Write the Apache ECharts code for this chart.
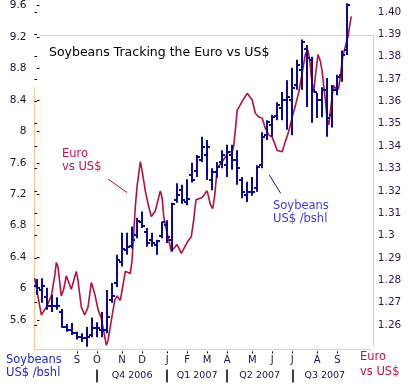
<!DOCTYPE html>
<html><head><meta charset="utf-8">
<script src="https://cdn.jsdelivr.net/npm/echarts@6/dist/echarts.min.js"></script>
<style>html,body{margin:0;padding:0;background:#fff}#c{width:414px;height:386px}</style>
</head><body><div id="c"></div>
<script>
// Weekly categories start at week ending 2006-07-09 (index 0)
const monthPos = [8, 12, 17, 21, 26, 30, 34, 38, 43, 47, 51, 56, 60];
const monthLabels = ['S', 'O', 'N', 'D', 'J', 'F', 'M', 'A', 'M', 'J', 'J', 'A', 'S'];
const quarterBounds = [12, 26, 38, 51];
const quarterPos = [19, 32, 44.5, 57.5];
const quarterLabels = ['Q4 2006', 'Q1 2007', 'Q2 2007', 'Q3 2007'];
const soyTickLabels = ['5.6', '6', '6.4', '6.8', '7.2', '7.6', '8', '8.4', '8.8', '9.2', '9.6'];
const euroTickLabels = ['1.26', '1.27', '1.28', '1.29', '1.3', '1.31', '1.32', '1.33', '1.34', '1.35', '1.36', '1.37', '1.38', '1.39', '1.40'];

// Soybeans weekly bars (US$ /bshl)
const soyOpen = [6.03,5.98,5.89,5.78,5.78,5.70,5.51,5.47,5.43,5.38,5.37,5.41,5.50,5.47,5.47,5.85,6.07,6.34,6.49,6.54,6.68,6.85,6.72,6.62,6.55,6.67,6.81,6.62,7.13,7.25,7.10,7.44,7.50,7.64,7.70,7.38,7.48,7.61,7.57,7.70,7.64,7.38,7.19,7.23,7.28,7.57,7.95,8.08,8.20,8.30,8.40,8.40,8.59,8.78,9.05,8.91,8.50,8.40,8.53,8.21,8.53,8.72,9.03];
const soyHigh = [6.12,6.13,6.01,5.92,5.89,5.74,5.55,5.56,5.45,5.43,5.51,5.63,5.57,5.70,5.98,6.07,6.43,6.71,6.71,6.79,6.90,6.98,6.77,6.71,6.62,6.85,6.87,7.09,7.34,7.32,7.39,7.60,7.70,7.93,7.89,7.53,7.61,7.76,7.83,7.83,7.76,7.42,7.36,7.42,7.57,7.99,8.14,8.21,8.37,8.50,8.65,8.81,8.91,9.17,9.10,8.95,8.49,8.56,8.68,8.59,8.72,9.03,9.63];
const soyLow = [5.92,5.82,5.73,5.70,5.73,5.50,5.45,5.41,5.35,5.32,5.26,5.38,5.38,5.38,5.43,5.82,6.02,6.28,6.43,6.51,6.64,6.77,6.53,6.53,6.43,6.64,6.58,6.47,7.09,7.08,7.06,7.35,7.42,7.61,7.38,7.25,7.41,7.53,7.42,7.51,7.32,7.15,7.10,7.18,7.23,7.53,7.89,7.93,8.14,8.14,8.02,7.95,8.53,8.53,8.31,8.11,8.17,8.18,7.93,8.05,8.46,8.63,8.97];
const soyClose = [6.01,6.03,5.78,5.78,5.78,5.51,5.47,5.43,5.38,5.37,5.38,5.50,5.50,5.47,5.64,5.91,6.36,6.50,6.53,6.62,6.86,6.79,6.58,6.58,6.60,6.85,6.66,7.08,7.19,7.13,7.14,7.38,7.67,7.80,7.80,7.48,7.54,7.70,7.74,7.64,7.53,7.23,7.23,7.23,7.54,7.93,8.12,8.18,8.33,8.40,8.44,8.55,8.84,9.14,8.93,8.53,8.40,8.53,8.17,8.53,8.69,8.97,9.61];

// Euro vs US$ (position in weeks, rate)
const euroWeek = [-0.45,0.87,1.87,2.87,3.55,3.87,4.2,4.86,5.34,5.86,6.86,7.86,8.2,8.86,9.54,9.86,10.2,10.86,11.54,12.2,12.85,13.19,13.85,14.19,14.85,15.53,16.0,16.65,17.65,18.65,19.0,19.33,19.65,20.0,20.65,21.0,21.64,22.32,22.84,23.64,24.64,25.0,25.32,26.0,26.64,26.84,28.0,28.84,30.0,30.83,31.31,31.77,33.0,34.0,34.63,35.11,35.51,36.0,36.63,37.63,38.3,39.0,39.3,39.62,40.0,41.0,42.0,43.0,43.62,44.3,45.0,45.62,46.29,47.0,48.0,49.0,49.61,50.29,51.0,51.61,52.29,53.0,53.61,54.1,54.5,54.8,55.28,55.6,56.14,56.6,56.94,57.28,57.6,57.94,58.28,58.6,58.94,59.28,59.94,60.28,60.6,61.08,61.6,62.14,62.48,62.79];
const euroRate = [1.281,1.2645,1.268,1.273,1.282,1.288,1.286,1.273,1.276,1.282,1.276,1.284,1.280,1.268,1.2645,1.264,1.268,1.279,1.274,1.267,1.263,1.259,1.251,1.253,1.262,1.271,1.273,1.271,1.284,1.283,1.289,1.301,1.313,1.322,1.333,1.329,1.320,1.313,1.3085,1.311,1.320,1.317,1.3085,1.301,1.295,1.293,1.296,1.292,1.297,1.2995,1.307,1.316,1.317,1.320,1.314,1.312,1.318,1.330,1.332,1.335,1.3375,1.3375,1.340,1.347,1.356,1.360,1.3636,1.3606,1.3547,1.353,1.3525,1.348,1.345,1.344,1.338,1.3375,1.342,1.3465,1.353,1.358,1.364,1.373,1.381,1.383,1.3785,1.371,1.364,1.371,1.381,1.378,1.374,1.367,1.361,1.3525,1.3495,1.355,1.362,1.367,1.365,1.366,1.371,1.380,1.3845,1.389,1.394,1.398];

const FONT = '"DejaVu Sans", Verdana, sans-serif';
const BLUE = '#0a0a96';
const RED = '#b4103c';
const FRAME = '#fcc690';

const soyData = soyOpen.map((o, i) => [i, o, soyHigh[i], soyLow[i], soyClose[i]]);
const euroData = euroWeek.map((w, i) => [w, euroRate[i]]);

const GL = 34.45, GR = 39.14;
const chart = echarts.init(document.getElementById('c'), null, {renderer: 'canvas'});
chart.setOption({
  animation: false,
  backgroundColor: '#fff',
  grid: [
    {left: GL, right: GR, top: 5.6, bottom: 34.6, outerBoundsMode: 'none'},
    {left: GL, right: GR, top: 11.9, bottom: 38.6, outerBoundsMode: 'none'}
  ],
  xAxis: [
    {type: 'value', gridIndex: 0, min: -0.5, max: 67.5, position: 'bottom',
     axisLine: {show: false}, splitLine: {show: false},
     axisTick: {show: true, customValues: monthPos, length: 2, lineStyle: {color: '#000'}},
     axisLabel: {customValues: monthPos, margin: 4, fontFamily: FONT, fontSize: 10, color: '#141440',
       formatter: v => monthLabels[monthPos.indexOf(v)]}},
    {type: 'value', gridIndex: 1, min: -0.5, max: 67.5, show: false},
    {type: 'value', gridIndex: 0, min: -0.5, max: 67.5, position: 'bottom', offset: 18,
     axisLine: {show: false}, splitLine: {show: false},
     axisTick: {show: true, customValues: quarterBounds, length: 13, lineStyle: {color: '#000', width: 1.5}},
     axisLabel: {customValues: quarterPos, margin: 1, fontFamily: FONT, fontSize: 9.5, color: '#141440',
       formatter: v => quarterLabels[quarterPos.indexOf(v)]}}
  ],
  yAxis: [
    {type: 'value', gridIndex: 0, min: 5.2, max: 9.6, interval: 0.4, position: 'left',
     axisLine: {show: false}, splitLine: {show: false},
     axisTick: {show: true, inside: true, length: 2.5, lineStyle: {color: '#000'}},
     axisLabel: {showMinLabel: false, margin: 8, fontFamily: FONT, fontSize: 10.5, color: '#141428',
       formatter: v => { const k = Math.round((v - 5.6) / 0.4); return soyTickLabels[k] || ''; }}},
    {type: 'value', gridIndex: 1, min: 1.25, max: 1.40, interval: 0.01, position: 'right',
     axisLine: {show: false}, splitLine: {show: false},
     axisTick: {show: true, inside: true, length: 2.5, lineStyle: {color: '#000'}},
     axisLabel: {showMinLabel: false, margin: 3, fontFamily: FONT, fontSize: 10.5, color: '#301848',
       formatter: v => { const k = Math.round((v - 1.26) * 100); return euroTickLabels[k] || ''; }}}
  ],
  series: [
    {type: 'line', xAxisIndex: 1, yAxisIndex: 1, data: euroData, showSymbol: false, symbol: 'none',
     lineStyle: {color: RED, width: 1.6}, z: 3},
    {type: 'custom', xAxisIndex: 0, yAxisIndex: 0, data: soyData, z: 4,
     encode: {x: 0, y: [1, 2, 3, 4]},
     renderItem: function (params, api) {
       const x = api.value(0);
       const pO = api.coord([x, api.value(1)]);
       const pH = api.coord([x, api.value(2)]);
       const pL = api.coord([x, api.value(3)]);
       const pC = api.coord([x, api.value(4)]);
       const w = api.size([1, 0])[0] * 0.6;
       const cx = Math.round(pH[0]);
       const st = {stroke: BLUE, lineWidth: 2};
       return {type: 'group', children: [
         {type: 'line', shape: {x1: cx, y1: pH[1], x2: cx, y2: pL[1]}, style: st},
         {type: 'line', shape: {x1: cx - w, y1: Math.round(pO[1]), x2: cx, y2: Math.round(pO[1])}, style: st},
         {type: 'line', shape: {x1: cx, y1: Math.round(pC[1]), x2: cx + w, y2: Math.round(pC[1])}, style: st}
       ]};
     }}
  ],
  graphic: [
    {type: 'line', z: 0, shape: {x1: 34.5, y1: 87, x2: 34.5, y2: 349.5}, style: {stroke: FRAME, lineWidth: 1}},
    {type: 'line', z: 0, shape: {x1: 34.5, y1: 349.5, x2: 371, y2: 349.5}, style: {stroke: FRAME, lineWidth: 1}},
    {type: 'line', z: 0, shape: {x1: 40, y1: 35.5, x2: 373.5, y2: 35.5}, style: {stroke: FRAME, lineWidth: 1}},
    {type: 'line', z: 0, shape: {x1: 373.5, y1: 35.5, x2: 373.5, y2: 346}, style: {stroke: FRAME, lineWidth: 1}},
    {type: 'text', z: 5, left: 49, top: 46, style: {text: 'Soybeans Tracking the Euro vs US$', font: '12.5px ' + FONT, fill: '#000'}},
    {type: 'text', z: 5, left: 62, top: 147.5, style: {text: 'Euro\nvs US$', font: '11.5px ' + FONT, lineHeight: 13, fill: '#c0104a'}},
    {type: 'line', z: 5, shape: {x1: 108, y1: 179, x2: 127, y2: 192.5}, style: {stroke: '#a01030', lineWidth: 1}},
    {type: 'text', z: 5, left: 273, top: 199.5, style: {text: 'Soybeans\nUS$ /bshl', font: '11.5px ' + FONT, lineHeight: 13, fill: '#3c3ce0'}},
    {type: 'line', z: 5, shape: {x1: 269.3, y1: 175, x2: 280.7, y2: 193.3}, style: {stroke: '#101080', lineWidth: 1}},
    {type: 'text', z: 5, left: 6, top: 353.5, style: {text: 'Soybeans\nUS$ /bshl', font: '11.5px ' + FONT, lineHeight: 13, fill: '#2828c8'}},
    {type: 'text', z: 5, left: 360, top: 349.5, style: {text: 'Euro\nvs US$', font: '11.5px ' + FONT, lineHeight: 15, fill: '#c0104a'}}
  ]
});
</script></body></html>
